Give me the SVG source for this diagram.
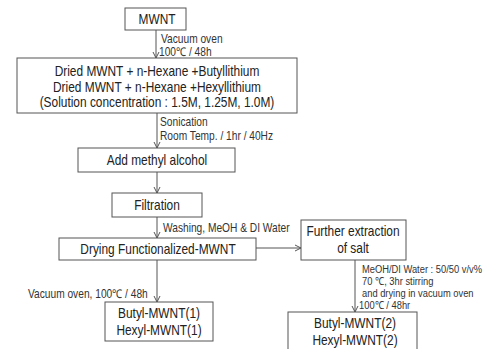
<svg xmlns="http://www.w3.org/2000/svg" width="486" height="349" viewBox="0 0 486 349">
<defs>
<marker id="ah" markerWidth="8" markerHeight="8" refX="7" refY="4" orient="auto" markerUnits="userSpaceOnUse">
<path d="M1,1 L7,4 L1,7" fill="none" stroke="#555" stroke-width="1"/>
</marker>
<style>
.box{fill:#fff;stroke:#555;stroke-width:1}
.t{font-family:"Liberation Sans",Arial,sans-serif;font-size:14px;fill:#222;text-anchor:middle}
.l{font-family:"Liberation Sans",Arial,sans-serif;font-size:12px;fill:#333}
.s{font-family:"Liberation Sans",Arial,sans-serif;font-size:11px;fill:#333}
.c{stroke:#555;stroke-width:1;fill:none;marker-end:url(#ah)}
</style>
</defs>
<rect width="486" height="349" fill="#fff"/>
<g id="connectors">
<line class="c" x1="156" y1="30" x2="156" y2="58"/>
<line class="c" x1="157" y1="113" x2="157" y2="148"/>
<line class="c" x1="157" y1="172" x2="157" y2="193"/>
<line class="c" x1="157" y1="217" x2="157" y2="238"/>
<line class="c" x1="256" y1="248" x2="301" y2="248"/>
<line class="c" x1="157" y1="260" x2="157" y2="302"/>
<line class="c" x1="355" y1="260" x2="355" y2="312"/>
<text class="l" transform="translate(161,0) scale(0.85,1)" x="0" y="43">Vacuum oven</text>
<text class="l" transform="translate(159,0) scale(0.85,1)" x="0" y="56">100℃ / 48h</text>
<text class="l" transform="translate(160,0) scale(0.85,1)" x="0" y="126">Sonication</text>
<text class="l" transform="translate(160,0) scale(0.85,1)" x="0" y="140">Room Temp. / 1hr / 40Hz</text>
<text class="l" transform="translate(163,0) scale(0.85,1)" x="0" y="232">Washing, MeOH &amp; DI Water</text>
<text class="l" transform="translate(28,0) scale(0.85,1)" x="0" y="298">Vacuum oven, 100℃ / 48h</text>
<text class="s" transform="translate(362,0) scale(0.85,1)" x="0" y="273">MeOH/DI Water : 50/50 v/v%</text>
<text class="s" transform="translate(362,0) scale(0.85,1)" x="0" y="285">70 ℃, 3hr stirring</text>
<text class="s" transform="translate(362,0) scale(0.85,1)" x="0" y="297">and drying in vacuum oven</text>
<text class="s" transform="translate(359,0) scale(0.85,1)" x="0" y="309">100℃ / 48hr</text>
</g>
<g id="mwnt">
<rect class="box" x="125" y="8" width="61" height="22"/>
<text class="t" transform="translate(157,0) scale(0.85,1)" x="0" y="24">MWNT</text>
</g>
<g id="mix">
<rect class="box" x="17" y="58" width="280" height="55"/>
<text class="t" transform="translate(157,0) scale(0.85,1)" x="0" y="76">Dried MWNT + n-Hexane +Butyllithium</text>
<text class="t" transform="translate(157,0) scale(0.85,1)" x="0" y="92">Dried MWNT + n-Hexane +Hexyllithium</text>
<text class="t" transform="translate(157,0) scale(0.85,1)" x="0" y="107">(Solution concentration : 1.5M, 1.25M, 1.0M)</text>
</g>
<g id="methanol">
<rect class="box" x="78" y="148" width="157" height="24"/>
<text class="t" transform="translate(157,0) scale(0.85,1)" x="0" y="165">Add methyl alcohol</text>
</g>
<g id="filtration">
<rect class="box" x="112" y="193" width="90" height="24"/>
<text class="t" transform="translate(157,0) scale(0.85,1)" x="0" y="210">Filtration</text>
</g>
<g id="drying">
<rect class="box" x="59" y="238" width="197" height="22"/>
<text class="t" transform="translate(158,0) scale(0.85,1)" x="0" y="254">Drying Functionalized-MWNT</text>
</g>
<g id="extraction">
<rect class="box" x="301" y="220" width="105" height="40"/>
<text class="t" transform="translate(353,0) scale(0.85,1)" x="0" y="236">Further extraction</text>
<text class="t" transform="translate(353,0) scale(0.85,1)" x="0" y="253">of salt</text>
</g>
<g id="product1">
<rect class="box" x="105" y="302" width="108" height="39"/>
<text class="t" transform="translate(159,0) scale(0.85,1)" x="0" y="318">Butyl-MWNT(1)</text>
<text class="t" transform="translate(159,0) scale(0.85,1)" x="0" y="335">Hexyl-MWNT(1)</text>
</g>
<g id="product2">
<rect class="box" x="288" y="312" width="129" height="40"/>
<text class="t" transform="translate(355,0) scale(0.85,1)" x="0" y="328">Butyl-MWNT(2)</text>
<text class="t" transform="translate(355,0) scale(0.85,1)" x="0" y="345">Hexyl-MWNT(2)</text>
</g>
</svg>
